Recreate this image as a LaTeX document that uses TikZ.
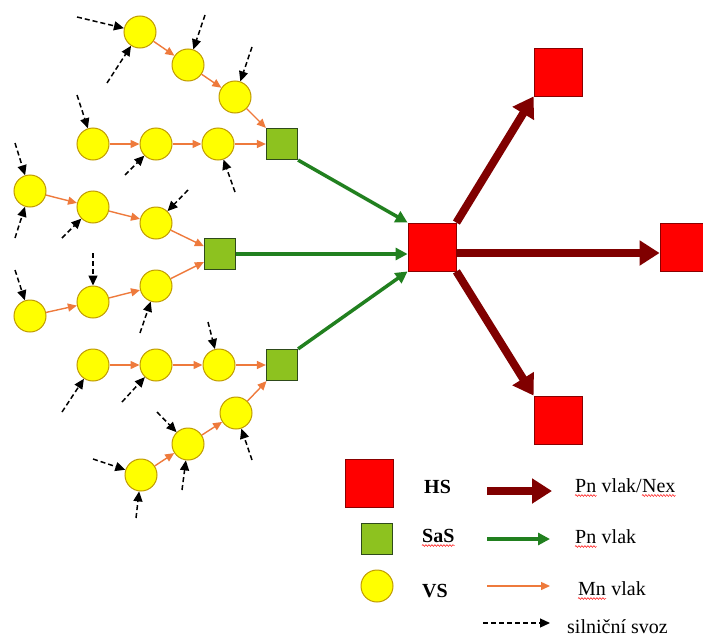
\documentclass[tikz,border=0pt]{standalone}
\usepackage{fontspec}
\setmainfont{Liberation Serif}
\usetikzlibrary{arrows.meta,decorations.pathmorphing}
\definecolor{vsyellow}{HTML}{FFFF00}
\definecolor{vsborder}{HTML}{C09A00}
\definecolor{sasgreen}{HTML}{8DC21F}
\definecolor{sasborder}{HTML}{2E4A1A}
\definecolor{hsred}{HTML}{FF0000}
\definecolor{hsborder}{HTML}{8A0000}
\definecolor{nexred}{HTML}{800000}
\definecolor{pngreen}{HTML}{21801F}
\definecolor{mnorange}{HTML}{EE7A3C}
\begin{document}
\begin{tikzpicture}[x=1pt,y=-1pt,
 vs/.style={circle,draw=vsborder,fill=vsyellow,line width=1pt,minimum size=32pt,inner sep=0pt},
 sas/.style={rectangle,draw=sasborder,fill=sasgreen,line width=1.2pt,minimum size=31pt,inner sep=0pt},
 hs/.style={rectangle,draw=hsborder,fill=hsred,line width=0.8pt,minimum size=48pt,inner sep=0pt},
 mn/.style={draw=mnorange,line width=1.4pt,-{Triangle[length=9pt,width=8pt]}},
 pn/.style={draw=pngreen,line width=3.5pt,-{Triangle[length=12pt,width=12pt]}},
 nex/.style={draw=nexred,line width=8pt,-{Triangle[length=20pt,width=24pt]}},
 road/.style={draw=black,line width=1.5pt,dash pattern=on 5pt off 3pt,-{Triangle[length=10pt,width=9pt]}},
 lbl/.style={anchor=base west,inner sep=0pt,font=\fontsize{20}{24}\selectfont},
 wave/.style={draw=red,line width=0.5pt,decorate,decoration={snake,amplitude=0.9pt,segment length=3pt}}]
\useasboundingbox (0,0) rectangle (703,642);
% stations
\node[vs] (A1) at (140,32) {};
\node[vs] (A2) at (188,65) {};
\node[vs] (A3) at (235,97) {};
\node[vs] (B1) at (93,144) {};
\node[vs] (B2) at (156,144) {};
\node[vs] (B3) at (218,144) {};
\node[vs] (C1) at (30,191) {};
\node[vs] (C2) at (93,207) {};
\node[vs] (C3) at (156,223) {};
\node[vs] (D1) at (30,316) {};
\node[vs] (D2) at (93,302) {};
\node[vs] (D3) at (156,286) {};
\node[vs] (E1) at (93,365) {};
\node[vs] (E2) at (156,365) {};
\node[vs] (E3) at (219,365) {};
\node[vs] (F1) at (141,475) {};
\node[vs] (F2) at (188,444) {};
\node[vs] (F3) at (236,413) {};
\node[sas] (S1) at (282,144) {};
\node[sas] (S2) at (220,254) {};
\node[sas] (S3) at (282,365) {};
\node[hs] (HS) at (432,247) {};
\node[hs] (T) at (558,72) {};
\node[hs] (R) at (684,247) {};
\node[hs] (Bt) at (558,420) {};
% Mn trains
\draw[mn] (A1) -- (A2); \draw[mn] (A2) -- (A3); \draw[mn] (A3) -- (S1);
\draw[mn] (B1) -- (B2); \draw[mn] (B2) -- (B3); \draw[mn] (B3) -- (S1);
\draw[mn] (C1) -- (C2); \draw[mn] (C2) -- (C3); \draw[mn] (C3) -- (S2);
\draw[mn] (D1) -- (D2); \draw[mn] (D2) -- (D3); \draw[mn] (D3) -- (S2);
\draw[mn] (E1) -- (E2); \draw[mn] (E2) -- (E3); \draw[mn] (E3) -- (S3);
\draw[mn] (F1) -- (F2); \draw[mn] (F2) -- (F3); \draw[mn] (F3) -- (S3);
% Pn trains
\draw[pn] (S1.south east) -- (HS.north west);
\draw[pn] (S2.east) -- (S2.east -| HS.west);
\draw[pn] (S3.north east) -- (HS.south west);
% Pn/Nex
\draw[nex] (HS.north east) -- (T.south west);
\draw[nex] ([yshift=-6pt]HS.east) -- ([yshift=-6pt]R.west);
\draw[nex] (HS.south east) -- (Bt.north west);
% road feeders
\foreach \n/\x/\y/\t in {r1/77/17/A1, r2/107/83/A1, r3/205/15/A2, r4/252/47/A3,
  r5/77/95/B1, r6/125/175/B2, r7/235/192/B3, r8/15/143/C1, r9/15/238/C1,
  r10/62/238/C2, r11/188/190/C3, r12/93/253/D2, r13/15/270/D1, r14/140/333/D3,
  r15/62/412/E1, r16/122/402/E2, r17/208/322/E3, r18/252/460/F3, r19/157/412/F2,
  r20/182/490/F2, r21/93/459/F1, r22/136/518/F1}{
  \coordinate (\n) at (\x,\y);
  \draw[road] (\n) -- (\t);
}
% legend
\node[hs] (LHS) at (369,483) {};
\node[sas] (LSaS) at (377,539) {};
\node[vs] (LVS) at (377,586) {};
\node[lbl] (tHS) at (424,493) {\textbf{HS}};
\node[lbl] (tSaS) at (422,542) {\textbf{SaS}};
\node[lbl] (tVS) at (422,597) {\textbf{VS}};
\coordinate (a1) at (487,491); \coordinate (b1) at (552,491);
\coordinate (a2) at (487,539); \coordinate (b2) at (550,539);
\coordinate (a3) at (487,586); \coordinate (b3) at (550,586);
\coordinate (a4) at (483,623); \coordinate (b4) at (550,623);
\draw[nex] (a1) -- (b1);
\draw[pn] (a2) -- (b2);
\draw[mn] (a3) -- (b3);
\draw[road,line width=1.2pt] (a4) -- (b4);
\node[lbl] (tNex1) at (575,492) {Pn};
\node[lbl] (tNex2) at (tNex1.base east) {\ vlak/};
\node[lbl] (tNex3) at (tNex2.base east) {Nex};
\node[lbl] (tPn1) at (575,543) {Pn};
\node[lbl] (tPn2) at (tPn1.base east) {\ vlak};
\node[lbl] (tMn1) at (578,595) {Mn};
\node[lbl] (tMn2) at (tMn1.base east) {\ vlak};
\node[lbl] (tRoad) at (567,633) {silniční svoz};
% spell-check underlines
\foreach \w in {tSaS,tNex1,tNex3,tPn1,tMn1}{
  \draw[wave] ([yshift=-3.5pt]\w.base west) -- ([yshift=-3.5pt]\w.base east);
}
\end{tikzpicture}
\end{document}
